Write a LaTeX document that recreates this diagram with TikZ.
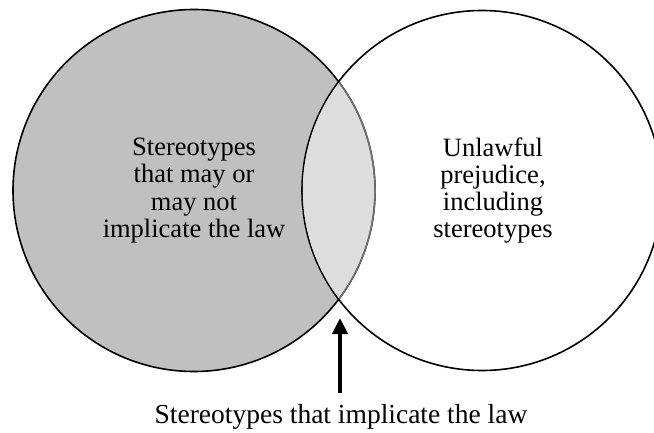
\documentclass[tikz,border=0pt]{standalone}
\usepackage{fontspec}
\setmainfont{Liberation Serif}
\usetikzlibrary{arrows.meta,positioning}

\definecolor{stereogray}{RGB}{192,192,192}
\definecolor{overlapgray}{RGB}{221,221,221}
\definecolor{arcgray}{RGB}{110,110,110}

\begin{document}
\begin{tikzpicture}[x=1pt,y=1pt,node distance=288pt]
    \tikzstyle{every node}=[font=\fontsize{26.5}{27.3}\selectfont]
    \tikzstyle{set}=[circle,draw=black,line width=1.6pt,minimum size=362pt,inner sep=0pt]
    \tikzstyle{pointer}=[line width=4pt,-{Triangle[width=15pt,length=16pt]}]
    \useasboundingbox (0,0) rectangle (654,432);

    \node[set,fill=stereogray] (stereo) at (194,241.5) {};
    \node[set,minimum size=360pt] (unlawful) [right of=stereo] {};

    % overlap of the two sets
    \begin{scope}
        \clip (stereo.center) circle (180.2);
        \fill[overlapgray] (unlawful.center) circle (179.2);
    \end{scope}
    \begin{scope}
        \clip (unlawful.center) circle (179.2);
        \draw[arcgray,line width=1.6pt] (stereo.center) circle (181);
    \end{scope}

    \node[align=center] (stereotext) at (stereo) {Stereotypes\\that may or\\may not\\implicate the law};
    \node[align=center,xshift=11pt] (unlawfultext) at (unlawful) {Unlawful\\prejudice,\\including\\stereotypes};
    \node[anchor=base,font=\fontsize{27.5}{28}\selectfont] (overlaptext) at (341,9) {Stereotypes that implicate the law};

    \coordinate (tail) at (340,39);
    \coordinate (tip) at (340,114);
    \draw[pointer] (tail) -- (tip);
\end{tikzpicture}
\end{document}
